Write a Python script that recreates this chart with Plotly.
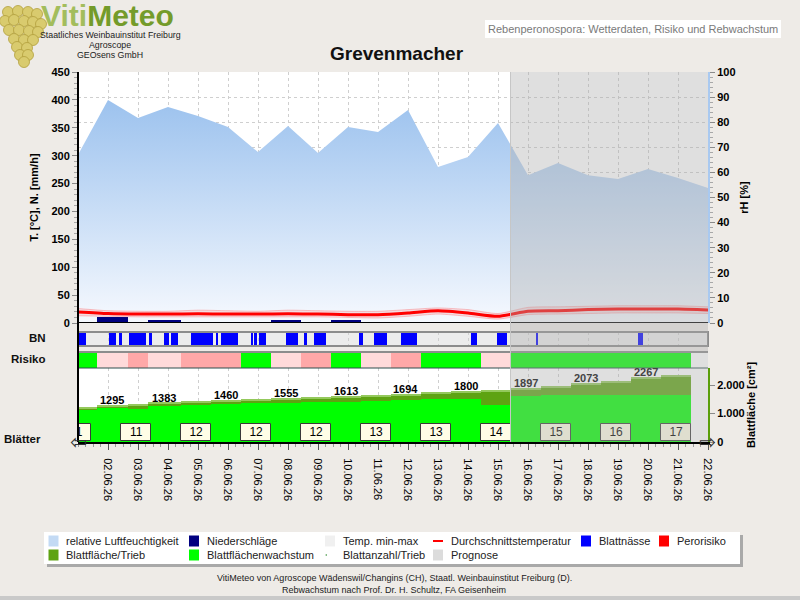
import plotly.graph_objects as go
import pandas as pd

# ---------------- data ----------------
days = pd.date_range("2026-06-01", "2026-06-22", freq="D")
tick_days = days[1:]

rel_humidity = [67.0, 88.8, 81.7, 86.1, 82.5, 78.1, 68.1, 78.5, 67.7, 78.1, 76.1,
                84.9, 62.2, 66.1, 79.7, 58.9, 63.7, 58.9, 57.4, 61.4, 57.8, 53.8]
temp_mean = [19.8, 17.0, 16.0, 16.0, 16.5, 16.0, 16.0, 16.5, 16.0, 15.0, 15.0,
             18.0, 22.0, 18.0, 12.0, 21.0, 22.0, 24.0, 25.0, 25.0, 25.0, 23.5]
temp_max = [26, 22, 21, 21, 23, 22, 21, 23, 22, 21, 21,
            24, 27, 24, 17, 28, 29, 30, 31, 31, 31, 29]
temp_min = [13, 12, 11, 11, 11, 11, 11, 11, 11, 10, 9,
            12, 16, 12, 7, 15, 16, 17, 18, 18, 18, 17]

# daily model windows (edges)
window_edges = ["2026-06-01 00:00", "2026-06-01 15:00", "2026-06-02 16:00", "2026-06-03 08:00",
                "2026-06-04 10:00", "2026-06-05 10:00", "2026-06-06 10:00", "2026-06-07 10:00",
                "2026-06-08 10:00", "2026-06-09 10:00", "2026-06-10 10:00", "2026-06-11 10:00",
                "2026-06-12 10:00", "2026-06-13 10:00", "2026-06-14 10:00", "2026-06-15 10:00",
                "2026-06-16 10:00", "2026-06-17 10:00", "2026-06-18 10:00", "2026-06-19 10:00",
                "2026-06-20 10:00", "2026-06-21 10:00"]
precipitation = [0, 11, 0, 6, 0, 0, 0, 6, 0, 6, 0, 0, 0, 0, 0, 1.5, 0, 0, 1.5, 0, 0]
risk_class = ["low", "mid", "high", "mid", "high", "high", "low", "mid", "high", "low", "mid",
              "high", "low", "low", "mid", "low", "low", "low", "low", "low", "low"]
leaf_area_total = [1236, 1295, 1330, 1383, 1420, 1460, 1510, 1555, 1585, 1613, 1650,
                   1694, 1750, 1800, 1825, 1897, 1960, 2073, 2150, 2267, 2330]
leaf_area_growth = [1140, 1185, 1170, 1260, 1285, 1330, 1355, 1380, 1405, 1400, 1445,
                    1480, 1505, 1520, 1300, 1600, 1640, 1650, 1650, 1650, 1650]

leaf_count_days = ["2026-06-01", "2026-06-03", "2026-06-05", "2026-06-07", "2026-06-09", "2026-06-11",
                   "2026-06-13", "2026-06-15", "2026-06-17", "2026-06-19", "2026-06-21"]
leaf_count = [11, 11, 12, 12, 12, 13, 13, 14, 15, 16, 17]

wetness_start = ["2026-06-01 01:00", "2026-06-02 01:00", "2026-06-02 09:00", "2026-06-02 17:00",
                 "2026-06-03 09:00", "2026-06-03 21:00", "2026-06-04 02:00", "2026-06-04 18:00",
                 "2026-06-05 14:00", "2026-06-05 18:00", "2026-06-06 18:00", "2026-06-06 21:00",
                 "2026-06-07 01:00", "2026-06-07 22:00", "2026-06-08 13:00", "2026-06-08 21:00",
                 "2026-06-10 09:00", "2026-06-10 21:00", "2026-06-11 18:00", "2026-06-14 02:00",
                 "2026-06-14 23:00", "2026-06-16 06:00", "2026-06-19 16:00"]
wetness_hours = [5, 5, 2, 13, 2, 4, 6, 18, 2, 14, 2, 2, 5, 10, 2, 9, 3, 10, 13, 5, 8, 2, 4]

forecast_start = "2026-06-15 10:00"
x_start, x_end = "2026-06-01", "2026-06-22"

# ---------------- geometry helpers ----------------
W, H = 800, 600
ML, MR, MT, MB = 78, 92, 72, 158
PW, PH = W - ML - MR, H - MT - MB
FONT = "Liberation Sans, Arial, sans-serif"


def px(x):
    return (x - ML) / PW


def py(y):
    return (H - MB - y) / PH


def dom(top, bot):
    return [py(bot), py(top)]


edges = pd.to_datetime(window_edges)
w_start = edges[:-1]
w_end = edges[1:]
w_ms = [(e - s).total_seconds() * 1000 for s, e in zip(w_start, w_end)]
w_mid = [s + (e - s) / 2 for s, e in zip(w_start, w_end)]

risk_colors = {"low": "#00ff00", "mid": "#ffdada", "high": "#ffa8a8"}

fig = go.Figure()

# relative humidity (base axis, right side)
fig.add_trace(go.Scatter(
    x=days, y=rel_humidity, yaxis="y", mode="lines", fill="tozeroy",
    line=dict(width=0, color="rgba(0,0,0,0)"),
    fillgradient=dict(type="vertical", colorscale=[[0, "#f6f9fe"], [1, "#9cc2ee"]], start=0, stop=89),
    hoverinfo="skip", showlegend=False))

# temperature band and mean
fig.add_trace(go.Scatter(x=days, y=temp_max, yaxis="y2", mode="lines",
                         line=dict(color="rgba(255,90,90,0.35)", width=1, shape="spline", smoothing=0.6),
                         hoverinfo="skip", showlegend=False))
fig.add_trace(go.Scatter(x=days, y=temp_min, yaxis="y2", mode="lines", fill="tonexty",
                         fillcolor="rgba(255,70,70,0.15)",
                         line=dict(color="rgba(255,90,90,0.35)", width=1, shape="spline", smoothing=0.6),
                         hoverinfo="skip", showlegend=False))
fig.add_trace(go.Scatter(x=days, y=temp_mean, yaxis="y2", mode="lines",
                         line=dict(color="#ff0000", width=3, shape="spline", smoothing=0.6),
                         hoverinfo="skip", showlegend=False))

# precipitation
fig.add_trace(go.Bar(x=w_mid, y=precipitation, width=w_ms, yaxis="y2",
                     marker=dict(color="#000080", line=dict(width=0)), showlegend=False))

# leaf wetness (BN)
ws = pd.to_datetime(wetness_start)
fig.add_trace(go.Bar(orientation="h", y=[0] * len(ws), base=list(ws),
                     x=[h * 3600 * 1000 for h in wetness_hours], width=1, yaxis="y3",
                     marker=dict(color="#0000ff", line=dict(width=0)), showlegend=False))

# risk
fig.add_trace(go.Bar(orientation="h", y=[0] * len(w_start), base=list(w_start), x=w_ms, width=1,
                     yaxis="y4", marker=dict(color=[risk_colors[r] for r in risk_class], line=dict(width=0)),
                     showlegend=False))

# leaf area (stepped bars per window)
fig.add_trace(go.Bar(x=w_mid, y=leaf_area_total, width=w_ms, yaxis="y5",
                     marker=dict(color="#5ea312", line=dict(width=0)), showlegend=False, hoverinfo="skip"))
fig.add_trace(go.Bar(x=w_mid, y=[45] * len(leaf_area_total), base=[v - 45 for v in leaf_area_total],
                     width=w_ms, yaxis="y5",
                     marker=dict(color="#94c95c", line=dict(width=0)), showlegend=False, hoverinfo="skip"))
fig.add_trace(go.Bar(x=w_mid, y=leaf_area_growth, width=w_ms, yaxis="y5",
                     marker=dict(color="#00ff00", line=dict(width=0)), showlegend=False, hoverinfo="skip"))

# leaf count boxes (bars + text, clipped to the plot area)
lc_days = pd.to_datetime(leaf_count_days)
box_center = [d - pd.Timedelta(hours=1.5) for d in lc_days]
fig.add_trace(go.Bar(x=box_center, y=[605] * len(leaf_count), base=35, width=24 * 3600 * 1000,
                     yaxis="y5", marker=dict(color="#fffde6", line=dict(color="#3a3a3a", width=1)),
                     showlegend=False, hoverinfo="skip"))
fig.add_trace(go.Scatter(x=box_center, y=[330] * len(leaf_count), text=[str(n) for n in leaf_count],
                         mode="text", yaxis="y5", cliponaxis=True,
                         textfont=dict(family=FONT, size=12, color="black"),
                         showlegend=False, hoverinfo="skip"))

shapes = []
annotations = []

# BN row
shapes.append(dict(type="rect", xref="paper", yref="y3 domain", x0=0, x1=1, y0=0, y1=1,
                   fillcolor="#ececec", line=dict(width=0), layer="between"))
shapes.append(dict(type="rect", xref="paper", yref="y3 domain", x0=0, x1=1, y0=0, y1=1,
                   fillcolor="rgba(0,0,0,0)", line=dict(color="#8c8c8c", width=2), layer="above"))
# Risk row borders
shapes.append(dict(type="line", xref="paper", yref="y4 domain", x0=0, x1=1, y0=1, y1=1,
                   line=dict(color="#8c8c8c", width=2), layer="above"))
shapes.append(dict(type="line", xref="paper", yref="y4 domain", x0=0, x1=1, y0=0, y1=0,
                   line=dict(color="#2f4f4f", width=1), layer="above"))
# zero line of main panel
shapes.append(dict(type="line", xref="paper", yref="y2", x0=0, x1=1, y0=0, y1=0,
                   line=dict(color="black", width=2), layer="above"))

# forecast overlay
shapes.append(dict(type="rect", xref="x", yref="paper", x0=forecast_start, x1=x_end, y0=0, y1=1,
                   fillcolor="rgba(170,170,170,0.38)", line=dict(width=0), layer="above"))
shapes.append(dict(type="line", xref="x", yref="paper", x0=forecast_start, x1=forecast_start, y0=0, y1=1,
                   line=dict(color="#c6c6c6", width=1), layer="above"))
# left axis line through all panels
shapes.append(dict(type="line", xref="paper", yref="paper", x0=0, x1=0, y0=0, y1=1,
                   line=dict(color="black", width=2), layer="above"))

# leaf area value labels
for i in range(1, len(leaf_area_total), 2):
    annotations.append(dict(x=w_mid[i], y=leaf_area_total[i], xref="x", yref="y5", showarrow=False,
                            text=f"{leaf_area_total[i]}", yanchor="bottom", yshift=-3,
                            font=dict(family=FONT, size=11, weight="bold",
                                      color="#444444" if w_start[i] >= pd.Timestamp(forecast_start) else "black")))

# axis end arrows
annotations.append(dict(x=px(78), y=py(442), xref="paper", yref="paper", text="⇦", showarrow=False,
                        font=dict(family="DejaVu Sans", size=20, color="#333"), xanchor="center", yanchor="middle"))
annotations.append(dict(x=px(707), y=py(442), xref="paper", yref="paper", text="⇨", showarrow=False,
                        font=dict(family="DejaVu Sans", size=20, color="#333"), xanchor="center", yanchor="middle"))

# row labels
for txt, xr, yc in [("BN", 48, 338), ("Risiko", 48, 359), ("Blätter", 43, 439)]:
    annotations.append(dict(x=px(xr), y=py(yc), xref="paper", yref="paper", text=txt, showarrow=False,
                            xanchor="right", yanchor="middle",
                            font=dict(family=FONT, size=11.5, weight="bold", color="#111")))

# header: logo
grapes = [(8, 12), (18, 11), (28, 12), (37, 14), (5, 21), (14, 20), (24, 21), (33, 22), (41, 24),
          (9, 30), (19, 30), (29, 31), (38, 32), (14, 39), (24, 40), (33, 40), (17, 47), (27, 48),
          (20, 55), (28, 55), (24, 62)]
for gx, gy in grapes:
    shapes.append(dict(type="circle", xref="paper", yref="paper", x0=px(gx - 5.5), x1=px(gx + 5.5),
                       y0=py(gy + 5.5), y1=py(gy - 5.5), fillcolor="#d9cb6e",
                       line=dict(color="#b3a03c", width=0.8)))
annotations.append(dict(x=px(39), y=py(15.5), xref="paper", yref="paper", showarrow=False,
                        xanchor="left", yanchor="middle",
                        text="<span style='color:#a3bd5c'>Viti</span><span style='color:#749b2a'>Meteo</span>",
                        font=dict(family=FONT, size=30, weight="bold")))
for txt, yc in [("Staatliches Weinbauinstitut Freiburg", 34.5), ("Agroscope", 45), ("GEOsens GmbH", 55.5)]:
    annotations.append(dict(x=px(110), y=py(yc), xref="paper", yref="paper", text=txt, showarrow=False,
                            xanchor="center", yanchor="middle", font=dict(family=FONT, size=8.8, color="#222")))

# title
annotations.append(dict(x=px(397), y=py(53), xref="paper", yref="paper", text="Grevenmacher", showarrow=False,
                        xanchor="center", yanchor="middle",
                        font=dict(family=FONT, size=19, weight="bold", color="#111")))
# top-right box
annotations.append(dict(x=px(633), y=py(29.5), xref="paper", yref="paper",
                        text="Rebenperonospora: Wetterdaten, Risiko und Rebwachstum", showarrow=False,
                        xanchor="center", yanchor="middle", bgcolor="white", bordercolor="white", borderpad=2,
                        font=dict(family=FONT, size=11, color="#7a7a7a")))

# legend box
shapes.append(dict(type="rect", xref="paper", yref="paper", x0=px(47), x1=px(743), y0=py(567), y1=py(535),
                   fillcolor="#a9a9a9", line=dict(width=0)))
shapes.append(dict(type="rect", xref="paper", yref="paper", x0=px(44), x1=px(740), y0=py(564), y1=py(532),
                   fillcolor="white", line=dict(width=0)))
legend_items = [
    ("rect", "#c3daf4", 48.5, 541, "relative Luftfeuchtigkeit"),
    ("rect", "#000080", 189, 541, "Niederschläge"),
    ("rect", "#f0f0f0", 325, 541, "Temp. min-max"),
    ("line", "#ff0000", 433, 541, "Durchschnittstemperatur"),
    ("rect", "#0000ff", 581, 541, "Blattnässe"),
    ("rect", "#ff0000", 659, 541, "Perorisiko"),
    ("rect", "#5ea312", 48.5, 555, "Blattfläche/Trieb"),
    ("rect", "#00ff00", 189, 555, "Blattflächenwachstum"),
    ("dot", "#2e8b2e", 325, 555, "Blattanzahl/Trieb"),
    ("rect", "#dcdcdc", 433, 555, "Prognose"),
]
for kind, col, x0, yc, txt in legend_items:
    if kind == "rect":
        shapes.append(dict(type="rect", xref="paper", yref="paper", x0=px(x0), x1=px(x0 + 10),
                           y0=py(yc + 5.5), y1=py(yc - 5.5), fillcolor=col, line=dict(width=0)))
    elif kind == "line":
        shapes.append(dict(type="line", xref="paper", yref="paper", x0=px(x0), x1=px(x0 + 10),
                           y0=py(yc), y1=py(yc), line=dict(color=col, width=2)))
    else:
        shapes.append(dict(type="circle", xref="paper", yref="paper", x0=px(x0 + 0.5), x1=px(x0 + 2),
                           y0=py(yc + 0.8), y1=py(yc - 0.8), fillcolor=col, line=dict(width=0)))
    annotations.append(dict(x=px(x0 + 15.5), y=py(yc), xref="paper", yref="paper", text=txt, showarrow=False,
                            xanchor="left", yanchor="middle", font=dict(family=FONT, size=11, color="#222")))

# footer
annotations.append(dict(x=px(394), y=py(578), xref="paper", yref="paper", showarrow=False,
                        text="VitiMeteo von Agroscope Wädenswil/Changins (CH), Staatl. Weinbauinstitut Freiburg (D).",
                        xanchor="center", yanchor="middle", font=dict(family=FONT, size=9, color="#222")))
annotations.append(dict(x=px(394), y=py(590), xref="paper", yref="paper", showarrow=False,
                        text="Rebwachstum nach Prof. Dr. H. Schultz, FA Geisenheim",
                        xanchor="center", yanchor="middle", font=dict(family=FONT, size=9, color="#222")))
shapes.append(dict(type="rect", xref="paper", yref="paper", x0=px(0), x1=px(800), y0=py(600), y1=py(596),
                   fillcolor="#c9c9c9", line=dict(width=0)))

bold11 = dict(family=FONT, size=11, weight="bold", color="black")

fig.update_layout(
    width=W, height=H, autosize=False,
    margin=dict(l=ML, r=MR, t=MT, b=MB, pad=0),
    paper_bgcolor="#eeebe7", plot_bgcolor="white",
    separators=",.", barmode="overlay", bargap=0,
    font=dict(family=FONT, size=11, color="black"),
    showlegend=False,
    xaxis=dict(type="date", range=[x_start, x_end], anchor="y5", domain=[0, 1],
               tickmode="array", tickvals=list(tick_days), tickformat="%d.%m.%y", tickangle=90,
               tickfont=dict(family=FONT, size=11, color="black"), ticklabelstandoff=6,
               ticks="outside", ticklen=6, tickcolor="#555", showline=True, linecolor="black", linewidth=2,
               showgrid=True, gridcolor="#cfcfcf", griddash="dot", gridwidth=1, zeroline=False,
               minor=dict(dtick=6 * 3600 * 1000, tick0=x_start, ticks="outside", ticklen=3,
                          tickcolor="#9a9a9a", showgrid=False),
               automargin=False, fixedrange=True),
    yaxis=dict(domain=dom(72, 323), anchor="x", side="right", range=[0, 100], dtick=10,
               tickfont=bold11, ticks="outside", ticklen=5, tickcolor="#8a8a8a",
               minor=dict(dtick=2, ticks="outside", ticklen=3, tickcolor="#a8a8a8", showgrid=False),
               showline=True, linecolor="#a9c9f0", linewidth=2,
               showgrid=True, gridcolor="#cfcfcf", griddash="dot", zeroline=False,
               title=dict(text="rH [%]", font=bold11, standoff=6), automargin=False),
    yaxis2=dict(overlaying="y", side="left", anchor="x", range=[0, 450], dtick=50,
                tickfont=bold11, ticks="outside", ticklen=5, tickcolor="#8a8a8a",
                minor=dict(dtick=10, ticks="outside", ticklen=3, tickcolor="#a8a8a8", showgrid=False),
                showline=False, showgrid=False, zeroline=False,
                title=dict(text="T. [°C], N. [mm/h]", font=bold11, standoff=10), automargin=False),
    yaxis3=dict(domain=dom(332, 346), anchor="x", range=[-0.5, 0.5], visible=False, fixedrange=True),
    yaxis4=dict(domain=dom(352, 368), anchor="x", range=[-0.5, 0.5], visible=False, fixedrange=True),
    yaxis5=dict(domain=dom(368, 442), anchor="x", side="right", range=[0, 2600],
                tickvals=[0, 1000, 2000], tickformat=",", tickfont=bold11,
                ticks="outside", ticklen=5, tickcolor="#8a8a8a",
                showline=True, linecolor="#5a9e0a", linewidth=2, showgrid=False, zeroline=False,
                title=dict(text="Blattfläche [cm²]", font=bold11, standoff=4), automargin=False),
    shapes=shapes,
    annotations=annotations,
)

fig.write_html("out.html")
